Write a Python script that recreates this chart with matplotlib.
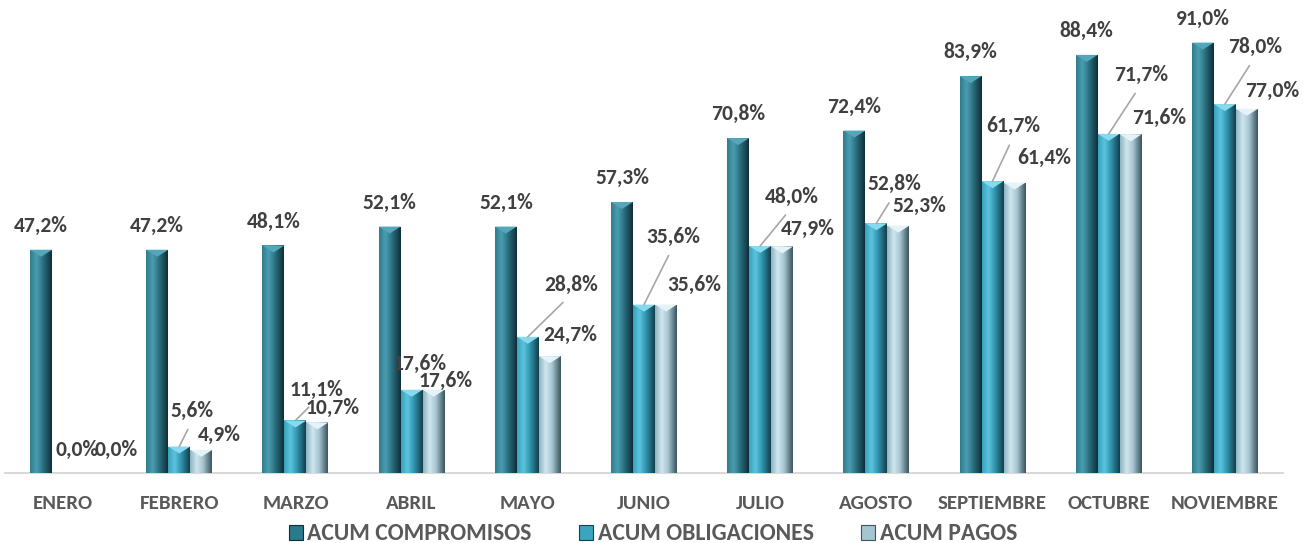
import matplotlib
matplotlib.use("Agg")
import matplotlib.pyplot as plt
import numpy as np
from matplotlib.patches import Polygon, Patch
from matplotlib.colors import LinearSegmentedColormap
from matplotlib import font_manager

months = ["ENERO", "FEBRERO", "MARZO", "ABRIL", "MAYO", "JUNIO", "JULIO",
          "AGOSTO", "SEPTIEMBRE", "OCTUBRE", "NOVIEMBRE"]
compromisos = [47.2, 47.2, 48.1, 52.1, 52.1, 57.3, 70.8, 72.4, 83.9, 88.4, 91.0]
obligaciones = [0.0, 5.6, 11.1, 17.6, 28.8, 35.6, 48.0, 52.8, 61.7, 71.7, 78.0]
pagos = [0.0, 4.9, 10.7, 17.6, 24.7, 35.6, 47.9, 52.3, 61.4, 71.6, 77.0]
series_names = ["ACUM COMPROMISOS", "ACUM OBLIGACIONES", "ACUM PAGOS"]

# label layout offsets (pixels) for obligaciones / pagos labels
obl_off = [(14, 23), (13, 36), (21, 31), (8, 26), (43, 52), (29, 68), (32, 49),
           (18, 39), (21, 55), (32, 59), (30, 57)]
obl_leader = [False, True, True, False, True, True, True, True, True, True, True]
pag_off = [(31, 23), (18, 15), (15, 14), (12, 9), (20, 21), (28, 20), (26, 17),
           (21, 20), (30, 25), (28, 16), (25, 18)]

names = {f.name for f in font_manager.fontManager.ttflist}
fam = "DejaVu Sans"
for cand in ["Carlito", "Open Sans Condensed", "Liberation Sans Narrow", "Roboto Condensed", "Lato"]:
    if cand in names:
        fam = cand
        break
plt.rcParams["font.family"] = [fam, "DejaVu Sans"]

W, H = 1307, 543
PX = 4.73  # pixels per percent
fig = plt.figure(figsize=(W / 100, H / 100), dpi=100)
ax = fig.add_axes([5 / W, 70 / H, 1278 / W, 463 / H])
ax.set_xlim(-0.5, len(months) - 0.5)
ax.set_ylim(0, 463 / PX)

bw = 22 / 116.2
styles = [
    dict(grad=["#2f7d8f", "#4a9db0", "#2a6f80", "#0f2f38"], bevel="#52a7bb", base="#2b7a8c"),
    dict(grad=["#3aa2bd", "#5cc4de", "#2f93ad", "#153f4c"], bevel="#86daee", base="#3aa5c0"),
    dict(grad=["#8fb3c0", "#cfe6ee", "#a5c5d1", "#3b545d"], bevel="#e3f3f8", base="#a5c5d1"),
]
bevel_h = 7 / PX

x = np.arange(len(months))
all_series = [compromisos, obligaciones, pagos]
for s, (vals, st) in enumerate(zip(all_series, styles)):
    cmap = LinearSegmentedColormap.from_list("g%d" % s, list(zip([0, 0.3, 0.6, 1.0], st["grad"])))
    grad = np.linspace(0, 1, 64).reshape(1, -1)
    xs = x + (s - 1) * bw
    bars = ax.bar(xs, vals, width=bw, color=st["base"], edgecolor="none", zorder=2)
    for b, v in zip(bars, vals):
        if v <= 0:
            continue
        x0 = b.get_x()
        im = ax.imshow(grad, cmap=cmap, aspect="auto", extent=(x0, x0 + bw, 0, v),
                       zorder=3, interpolation="bilinear")
        im.set_clip_path(b)
        bh = min(bevel_h, v)
        ax.add_patch(Polygon([(x0, v), (x0 + bw, v), (x0 + bw / 2, v - bh)], closed=True,
                             facecolor=st["bevel"], edgecolor="none", zorder=4))

lab_kw = dict(fontsize=15.5, fontweight="bold", color="#404040", ha="center", va="center",
              textcoords="offset pixels", zorder=6)
for i in range(len(months)):
    ax.annotate(f"{compromisos[i]:.1f}%".replace(".", ","), xy=(x[i] - bw, compromisos[i]),
                xytext=(0, 24), **lab_kw)
    ap = dict(arrowstyle="-", color="#A6A6A6", lw=1.2, shrinkA=5, shrinkB=0,
              relpos=(0.5, 0.0)) if obl_leader[i] else None
    ax.annotate(f"{obligaciones[i]:.1f}%".replace(".", ","), xy=(x[i], obligaciones[i]),
                xytext=obl_off[i], arrowprops=ap, **lab_kw)
    ax.annotate(f"{pagos[i]:.1f}%".replace(".", ","), xy=(x[i] + bw, pagos[i]),
                xytext=pag_off[i], **lab_kw)

for sp in ["left", "right", "top"]:
    ax.spines[sp].set_visible(False)
ax.spines["bottom"].set_color("#D9D9D9")
ax.spines["bottom"].set_linewidth(1.5)
ax.set_yticks([])
ax.set_xticks(x)
ax.set_xticklabels(months, fontsize=15, fontweight="bold", color="#595959")
ax.tick_params(axis="x", length=0, pad=16)

handles = [Patch(facecolor=st["base"], edgecolor=st["grad"][3], linewidth=0.8) for st in styles]
fig.legend(handles, series_names, loc="center", bbox_to_anchor=(653 / W, 9 / H), ncol=3,
           frameon=False, prop=dict(family=[fam, "DejaVu Sans"], size=17, weight="bold"),
           labelcolor="#595959", handlelength=0.6, handleheight=0.6, handletextpad=0.2,
           columnspacing=2.0, borderaxespad=0)

fig.savefig("out.png", dpi=100)
